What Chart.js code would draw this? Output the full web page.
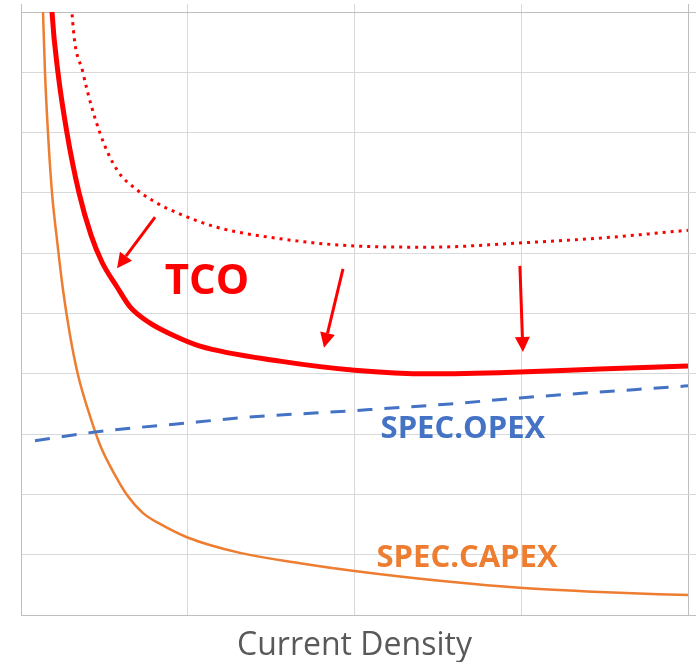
<!DOCTYPE html>
<html>
<head>
<meta charset="utf-8">
<script src="https://cdn.jsdelivr.net/npm/chart.js@4/dist/chart.umd.min.js"></script>
<style>
  html, body { margin: 0; padding: 0; background: #fff; }
  #wrap { width: 696px; height: 662px; }
</style>
</head>
<body>
<div id="wrap"><canvas id="chart"></canvas></div>
<script>
// values (x: current density, y: specific cost)
const capexX = [0.126, 0.132, 0.144, 0.162, 0.186, 0.216, 0.252, 0.294, 0.342, 0.402, 0.474, 0.564, 0.636, 0.732, 0.834, 0.995, 1.313, 1.673, 2.0, 2.573, 2.99, 3.47, 4.0];
const capexY = [10.36, 10.0, 8.99, 7.99, 7.0, 6.22, 5.39, 4.64, 3.98, 3.40, 2.82, 2.32, 1.99, 1.69, 1.51, 1.29, 1.03, 0.86, 0.73, 0.55, 0.45, 0.38, 0.33];

const opexX = [0.084, 0.432, 1.055, 1.313, 2.0, 2.573, 2.99, 4.0];
const opexY = [2.89, 3.03, 3.2, 3.27, 3.39, 3.5, 3.6, 3.8];

const tcoX = [0.18, 0.186, 0.222, 0.276, 0.348, 0.42, 0.486, 0.576, 0.654, 0.774, 0.912, 1.073, 1.553, 2.0, 2.453, 2.99, 3.47, 4.0];
const tcoY = [10.36, 10.0, 8.99, 7.99, 7.0, 6.3, 5.85, 5.44, 5.11, 4.84, 4.64, 4.46, 4.21, 4.06, 4.0, 4.03, 4.08, 4.13];

const tcoOldX = [0.30, 0.306, 0.372, 0.474, 0.576, 0.696, 0.816, 0.936, 1.175, 1.553, 2.0, 2.453, 2.99, 3.47, 4.0];
const tcoOldY = [10.36, 9.98, 8.99, 7.99, 7.38, 7.05, 6.83, 6.67, 6.43, 6.24, 6.12, 6.1, 6.17, 6.25, 6.38];

// annotations (data coordinates)
const arrows = [
  { from: [0.804, 6.60], to: [0.576, 5.75] },
  { from: [1.931, 5.74], to: [1.817, 4.43] },
  { from: [2.992, 5.79], to: [3.010, 4.36] },
];
const notes = [
  { text: "TCO", x: 1.115, y: 5.52, color: "#FF0000", size: 42 },
  { text: "SPEC.OPEX", x: 2.65, y: 3.08, color: "#4472C4", size: 31 },
  { text: "SPEC.CAPEX", x: 2.675, y: 0.945, color: "#ED7D31", size: 31 },
];

const pts = (xs, ys) => xs.map((x, i) => ({ x: x, y: ys[i] }));

const gridColor = "#d9d9d9";
const edgeColor = "#bfbfbf";

const notesPlugin = {
  id: "notes",
  afterDatasetsDraw(chart) {
    const ctx = chart.ctx;
    const xs = chart.scales.x;
    const ys = chart.scales.y;
    ctx.save();
    // arrows
    arrows.forEach((a) => {
      const x1 = xs.getPixelForValue(a.from[0]);
      const y1 = ys.getPixelForValue(a.from[1]);
      const x2 = xs.getPixelForValue(a.to[0]);
      const y2 = ys.getPixelForValue(a.to[1]);
      const ang = Math.atan2(y2 - y1, x2 - x1);
      const head = 15;
      const half = 7.5;
      const bx = x2 - head * Math.cos(ang);
      const by = y2 - head * Math.sin(ang);
      ctx.strokeStyle = "#FF0000";
      ctx.fillStyle = "#FF0000";
      ctx.lineWidth = 3;
      ctx.beginPath();
      ctx.moveTo(x1, y1);
      ctx.lineTo(bx, by);
      ctx.stroke();
      ctx.beginPath();
      ctx.moveTo(x2, y2);
      ctx.lineTo(bx + half * Math.sin(ang), by - half * Math.cos(ang));
      ctx.lineTo(bx - half * Math.sin(ang), by + half * Math.cos(ang));
      ctx.closePath();
      ctx.fill();
    });
    // text labels
    ctx.textAlign = "center";
    ctx.textBaseline = "middle";
    notes.forEach((n) => {
      ctx.font = "bold " + n.size + "px 'Open Sans'";
      ctx.fillStyle = n.color;
      ctx.fillText(n.text, xs.getPixelForValue(n.x), ys.getPixelForValue(n.y));
    });
    ctx.restore();
  },
};

new Chart(document.getElementById("chart"), {
  type: "line",
  data: {
    datasets: [
      {
        label: "TCO",
        data: pts(tcoX, tcoY),
        borderColor: "#FF0000",
        borderWidth: 5,
      },
      {
        label: "TCO (before)",
        data: pts(tcoOldX, tcoOldY),
        borderColor: "#FF0000",
        borderWidth: 3,
        borderDash: [3, 5],
      },
      {
        label: "SPEC.OPEX",
        data: pts(opexX, opexY),
        borderColor: "#4472C4",
        borderWidth: 3,
        borderDash: [15, 12],
      },
      {
        label: "SPEC.CAPEX",
        data: pts(capexX, capexY),
        borderColor: "#ED7D31",
        borderWidth: 2.5,
      },
    ],
  },
  options: {
    responsive: true,
    maintainAspectRatio: false,
    animation: false,
    layout: { padding: { left: 21, top: 4, right: 0, bottom: 0 } },
    elements: {
      point: { radius: 0 },
      line: { cubicInterpolationMode: "monotone", fill: false },
    },
    datasets: { line: { clip: 0 } },
    plugins: {
      legend: { display: false },
      tooltip: { enabled: false },
    },
    scales: {
      x: {
        type: "linear",
        min: 0,
        max: 4,
        ticks: { display: false, stepSize: 1 },
        grid: {
          drawTicks: false,
          color: (c) => (c.tick && c.tick.value === 4 ? edgeColor : gridColor),
        },
        border: { color: edgeColor },
        title: {
          display: true,
          text: "Current Density",
          color: "#595959",
          font: { family: "'Open Sans'", size: 32, lineHeight: 1 },
          padding: { top: 15, bottom: 0 },
        },
      },
      x2: {
        type: "linear",
        position: "top",
        min: 0,
        max: 4,
        ticks: { display: false, stepSize: 1 },
        grid: {
          drawOnChartArea: false,
          tickLength: 8,
          tickColor: (c) => (c.tick && (c.tick.value === 0 || c.tick.value === 4) ? edgeColor : gridColor),
        },
        border: { display: false },
      },
      y: {
        min: 0,
        max: 10,
        ticks: { display: false, stepSize: 1 },
        grid: {
          drawTicks: false,
          color: (c) => (c.tick && c.tick.value === 10 ? edgeColor : gridColor),
        },
        border: { color: edgeColor },
      },
      y2: {
        position: "right",
        min: 0,
        max: 10,
        ticks: { display: false, stepSize: 1 },
        grid: {
          drawOnChartArea: false,
          tickLength: 8,
          tickColor: (c) => (c.tick && (c.tick.value === 0 || c.tick.value === 10) ? edgeColor : gridColor),
        },
        border: { display: false },
      },
    },
  },
  plugins: [notesPlugin],
});
</script>
</body>
</html>
